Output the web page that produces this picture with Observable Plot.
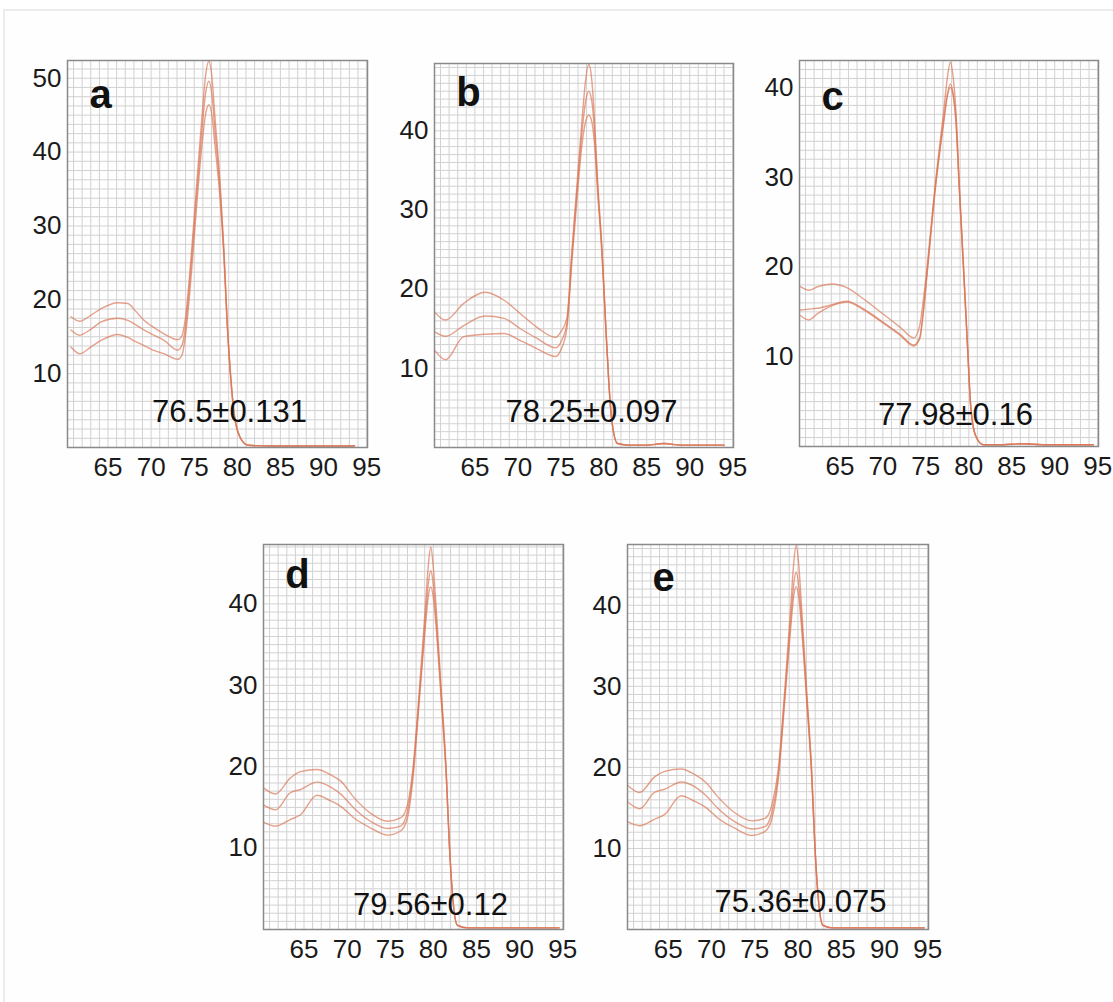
<!DOCTYPE html>
<html><head><meta charset="utf-8">
<script src="https://cdn.jsdelivr.net/npm/d3@7"></script>
<script src="https://cdn.jsdelivr.net/npm/@observablehq/plot@0.6"></script>
<style>
body{margin:0;background:#fff;}
#fig{position:relative;width:1113px;height:1002px;overflow:hidden;font-family:"Liberation Sans",Arial,sans-serif;background:#fff;}
#border{position:absolute;left:3px;top:9px;width:1130px;height:1010px;border-top:2px solid #ececec;border-left:2px solid #ececec;background:#fefefe;}
.panel{position:absolute;}
</style></head><body><div id="fig"><div id="border"></div></div>
<script>
const panelLetters = ["a", "b", "c", "d", "e"];
const tmLabels = ["76.5±0.131", "78.25±0.097", "77.98±0.16", "79.56±0.12", "75.36±0.075"];
const xTicks = [65, 70, 75, 80, 85, 90, 95];
const yTicksA = [10, 20, 30, 40, 50];
const yTicksOther = [10, 20, 30, 40];

// Panel a
const tempA = [60.7, 61.7, 63.0, 64.2, 66.1, 67.3, 68.1, 69.2, 70.0, 71.5, 73.1, 73.6, 74.0, 74.7, 75.3, 75.9, 76.3, 76.7, 77.05, 77.4, 78.0, 78.45, 78.8, 79.3, 79.7, 80.5, 81.3, 84.0, 87.0, 90.0, 93.6];
const a1 = [17.7, 17.1, 17.9, 18.8, 19.6, 19.5, 18.6, 17.2, 16.5, 15.4, 14.6, 15.2, 17.7, 26.7, 35.8, 44.8, 50.2, 52.3, 50.2, 44.8, 35.8, 26.7, 17.7, 8.7, 4.1, 1.0, 0.3, 0.2, 0.2, 0.2, 0.2];
const a2 = [15.9, 15.2, 16.0, 17.0, 17.5, 17.2, 16.7, 15.9, 15.4, 14.5, 13.2, 13.9, 16.5, 25.5, 34.5, 43.0, 47.8, 49.6, 47.8, 43.0, 34.8, 26.2, 17.4, 8.5, 4.0, 1.0, 0.3, 0.2, 0.2, 0.2, 0.2];
const a3 = [13.6, 12.7, 13.6, 14.5, 15.3, 14.9, 14.4, 13.8, 13.3, 12.7, 11.95, 12.6, 15.3, 24.0, 33.0, 41.0, 45.0, 46.4, 45.0, 41.0, 33.6, 25.6, 17.1, 8.3, 3.9, 1.0, 0.3, 0.2, 0.2, 0.2, 0.2];

// Panel b
const tempB = [60.3, 61.6, 63.7, 66.2, 68.4, 70.3, 72.2, 74.4, 75.0, 75.7, 76.3, 76.9, 77.5, 77.9, 78.25, 78.6, 78.9, 79.3, 79.8, 80.2, 80.6, 80.9, 81.6, 83.0, 85.0, 87.0, 89.0, 91.5, 94.0];
const b1 = [17.1, 16.1, 18.2, 19.6, 18.6, 16.9, 15.2, 13.9, 14.6, 16.3, 25.0, 33.4, 41.8, 46.5, 48.4, 46.5, 41.8, 33.4, 25.0, 16.3, 8.1, 3.8, 0.5, 0.3, 0.3, 0.5, 0.3, 0.3, 0.3];
const b2 = [14.6, 14.05, 15.4, 16.6, 16.3, 15.0, 13.8, 12.6, 13.3, 15.6, 24.3, 32.6, 40.2, 43.8, 45.0, 43.8, 40.4, 32.8, 24.6, 16.0, 8.0, 3.8, 0.5, 0.3, 0.3, 0.5, 0.3, 0.3, 0.3];
const b3 = [12.3, 11.1, 14.0, 14.3, 14.4, 13.5, 12.5, 11.5, 12.3, 15.0, 23.6, 31.6, 38.6, 41.2, 42.0, 41.2, 38.6, 32.0, 24.2, 15.8, 7.9, 3.7, 0.5, 0.3, 0.3, 0.5, 0.3, 0.3, 0.3];

// Panel c
const tempC = [60.4, 61.4, 62.4, 64.1, 65.8, 67.8, 70.1, 72.0, 73.6, 74.3, 74.7, 75.15, 76.1, 77.1, 77.5, 77.86, 78.2, 78.5, 78.9, 79.4, 79.9, 80.2, 80.8, 81.7, 84.0, 86.0, 89.0, 92.0, 94.5];
const c1 = [17.8, 17.4, 17.8, 18.1, 17.7, 16.4, 14.7, 13.3, 12.1, 13.5, 16.2, 20.0, 29.2, 37.5, 41.0, 42.8, 41.0, 37.5, 29.2, 20.0, 10.5, 4.9, 1.2, 0.2, 0.2, 0.3, 0.2, 0.2, 0.2];
const c2 = [15.2, 15.3, 15.4, 15.8, 16.2, 15.3, 13.8, 12.5, 11.3, 12.2, 15.0, 19.4, 28.8, 36.5, 39.2, 40.4, 39.2, 36.5, 28.8, 19.6, 10.3, 4.8, 1.2, 0.2, 0.2, 0.3, 0.2, 0.2, 0.2];
const c3 = [14.6, 14.1, 14.8, 15.7, 16.1, 15.2, 13.7, 12.4, 11.2, 12.0, 14.8, 19.2, 28.6, 36.2, 39.0, 40.0, 39.0, 36.2, 28.6, 19.5, 10.2, 4.8, 1.2, 0.2, 0.2, 0.3, 0.2, 0.2, 0.2];

// Panel d
const tempD = [60.3, 61.7, 63.4, 64.6, 66.5, 68.1, 69.3, 70.8, 72.7, 74.7, 76.2, 77.0, 77.6, 78.4, 79.1, 79.4, 79.7, 80.0, 80.3, 80.9, 81.5, 81.85, 82.2, 82.8, 84.0, 87.0, 90.0, 94.6];
const d1 = [17.4, 16.65, 18.6, 19.4, 19.65, 19.0, 18.2, 16.2, 14.3, 13.3, 13.7, 15.3, 19.45, 29.7, 40.0, 44.5, 47.0, 44.5, 40.0, 29.7, 19.45, 10.8, 4.65, 0.5, 0.2, 0.2, 0.2, 0.2];
const d2 = [15.3, 14.7, 16.8, 17.2, 18.1, 17.5, 16.6, 14.9, 13.3, 12.4, 12.7, 14.5, 18.8, 29.0, 38.5, 42.3, 44.1, 42.3, 38.5, 29.0, 19.0, 10.6, 4.6, 0.5, 0.2, 0.2, 0.2, 0.2];
const d3v = [13.2, 12.7, 13.5, 14.1, 16.5, 15.8, 15.1, 13.7, 12.5, 11.6, 12.1, 13.7, 18.2, 28.4, 37.5, 40.8, 42.1, 40.8, 37.5, 28.4, 18.8, 10.5, 4.5, 0.5, 0.2, 0.2, 0.2, 0.2];

// Panel e
const tempE = [60.3, 61.7, 63.4, 64.6, 66.5, 68.1, 69.3, 70.8, 72.7, 74.7, 76.2, 77.0, 77.7, 78.5, 79.2, 79.5, 79.8, 80.1, 80.4, 81.0, 81.6, 81.95, 82.3, 82.9, 84.0, 87.0, 90.0, 94.6];
const e1 = [17.8, 16.9, 18.8, 19.5, 19.8, 19.1, 18.2, 16.3, 14.4, 13.4, 13.7, 15.4, 19.5, 29.8, 40.2, 45.0, 47.4, 45.0, 40.2, 29.8, 19.5, 10.8, 4.6, 0.5, 0.2, 0.2, 0.2, 0.2];
const e2 = [15.75, 14.9, 16.9, 17.3, 18.2, 17.6, 16.6, 14.9, 13.3, 12.4, 12.7, 14.5, 18.8, 29.0, 38.6, 42.4, 44.1, 42.4, 38.6, 29.0, 19.0, 10.6, 4.6, 0.5, 0.2, 0.2, 0.2, 0.2];
const e3 = [13.3, 12.8, 13.6, 14.2, 16.5, 15.8, 15.1, 13.7, 12.5, 11.6, 12.1, 13.7, 18.2, 28.4, 37.6, 41.0, 42.3, 41.0, 37.6, 28.4, 18.8, 10.5, 4.5, 0.5, 0.2, 0.2, 0.2, 0.2];

const panels = [
  {temps: tempA, series: [a1, a2, a3], yTicks: yTicksA},
  {temps: tempB, series: [b1, b2, b3], yTicks: yTicksOther},
  {temps: tempC, series: [c1, c2, c3], yTicks: yTicksOther},
  {temps: tempD, series: [d1, d2, d3v], yTicks: yTicksOther},
  {temps: tempE, series: [e1, e2, e3], yTicks: yTicksOther}
];

// layout (pixels) and scale extents per panel
const layout = [
  {left: 67, top: 60, w: 300, h: 387, ymax: 52.4, gstep: 1.25, lx: 33, ly: 35, tx: 162, ty: -35},
  {left: 434, top: 63, w: 299, h: 384, ymax: 48.5, gstep: 1, lx: 34, ly: 30, tx: 157, ty: -35},
  {left: 799, top: 60, w: 299, h: 386, ymax: 43, gstep: 1, lx: 33, ly: 37, tx: 156, ty: -31},
  {left: 263, top: 544, w: 300, h: 385, ymax: 47.3, gstep: 1, lx: 34, ly: 31, tx: 167, ty: -24},
  {left: 627, top: 544, w: 301, h: 385, ymax: 47.5, gstep: 1, lx: 36, ly: 34, tx: 173, ty: -27}
];

function seq(start, stop, step) {
  const out = [];
  for (let k = 0; start + k * step < stop - 1e-9; k++) out.push(+(start + k * step).toFixed(4));
  return out;
}

const fig = document.getElementById("fig");
const ML = 60, MR = 10, MT = 10, MB = 45;
const fontFam = '"Liberation Sans", Arial, sans-serif';

panels.forEach((p, i) => {
  const L = layout[i];
  const rows = [];
  p.series.forEach((vals, s) => vals.forEach((v, j) => rows.push({t: p.temps[j], v, s})));
  const chart = Plot.plot({
    width: ML + L.w + MR,
    height: MT + L.h + MB,
    marginLeft: ML, marginRight: MR, marginTop: MT, marginBottom: MB,
    style: {fontFamily: fontFam, fontSize: "26px", color: "#1a1a1a", background: "transparent", overflow: "visible"},
    x: {domain: [60.3, 95.1], ticks: xTicks, tickSize: 0, tickPadding: 10, label: null},
    y: {domain: [0, L.ymax], ticks: p.yTicks, tickSize: 0, tickPadding: 6, label: null},
    marks: [
      Plot.ruleX(seq(61, 95.1, 1), {stroke: "#d2d2d2", strokeWidth: 1}),
      Plot.ruleY(seq(L.gstep, L.ymax, L.gstep), {stroke: "#d2d2d2", strokeWidth: 1}),
      Plot.line(rows, {x: "t", y: "v", z: "s", stroke: "#da7454", strokeOpacity: 0.68, strokeWidth: 1.4, curve: "monotone-x"}),
      Plot.frame({stroke: "#8a8a8a", strokeWidth: 1.5}),
      Plot.text([panelLetters[i]], {text: d => d, frameAnchor: "top-left", dx: L.lx, dy: L.ly, fontSize: 40, fontWeight: "bold", fill: "#111", textAnchor: "middle", lineAnchor: "middle"}),
      Plot.text([tmLabels[i]], {text: d => d, frameAnchor: "bottom-left", dx: L.tx, dy: L.ty, fontSize: 31, fill: "#111", textAnchor: "middle", lineAnchor: "middle"})
    ]
  });
  const div = document.createElement("div");
  div.className = "panel";
  div.style.left = (L.left - ML) + "px";
  div.style.top = (L.top - MT) + "px";
  div.appendChild(chart);
  fig.appendChild(div);
});
</script>
</body></html>
